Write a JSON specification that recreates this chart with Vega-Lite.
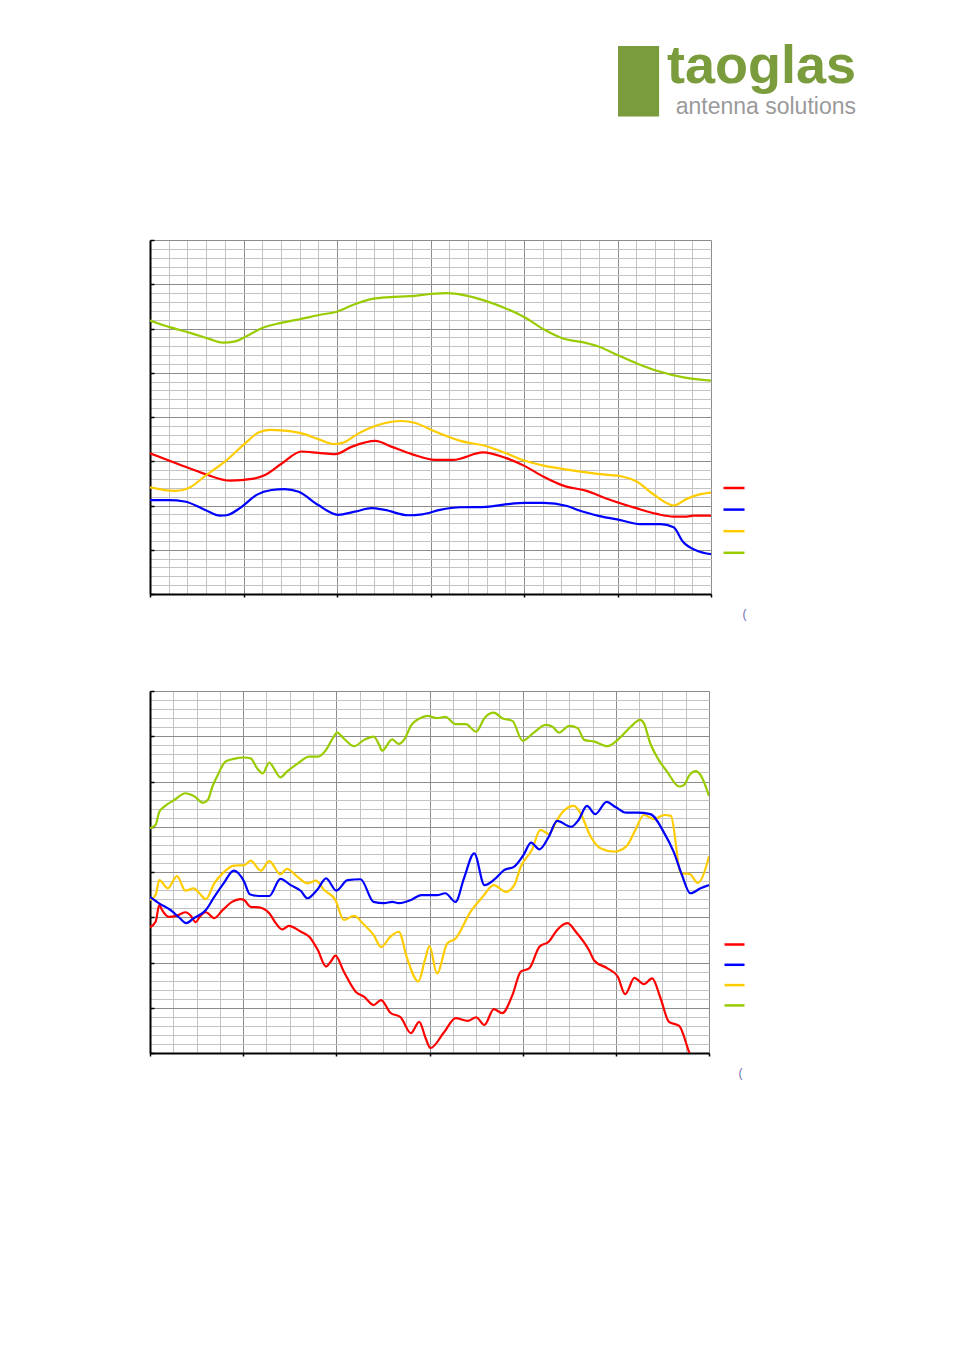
{
  "$schema": "https://vega.github.io/schema/vega-lite/v6.json",
  "background": "white",
  "padding": {"left": 149, "top": 40, "right": 5, "bottom": 5},
  "bounds": "flush",
  "spacing": 97,
  "title": {
    "text": "taoglas",
    "subtitle": "antenna solutions",
    "anchor": "end",
    "frame": "group",
    "font": "Liberation Sans",
    "fontSize": 54,
    "fontWeight": "bold",
    "color": "#7a9c3c",
    "subtitleFont": "Liberation Sans",
    "subtitleFontSize": 23,
    "subtitleColor": "#9a9a9a",
    "subtitlePadding": 2,
    "offset": -66.5,
    "dx": 706
  },
  "config": {
    "view": {"stroke": null},
    "font": "Liberation Sans",
    "axis": {
      "labels": false,
      "domainColor": "#000000",
      "domainWidth": 2,
      "gridWidth": 1,
      "tickWidth": 1.5
    }
  },
  "resolve": {"scale": {"color": "independent"}, "legend": {"color": "independent"}},
  "datasets": {
    "band1": [
      {"freq": 0, "value": 61.8, "series": "Trace 4"},
      {"freq": 21, "value": 60.3, "series": "Trace 4"},
      {"freq": 43, "value": 59.0, "series": "Trace 4"},
      {"freq": 64, "value": 57.6, "series": "Trace 4"},
      {"freq": 78, "value": 56.8, "series": "Trace 4"},
      {"freq": 91, "value": 57.1, "series": "Trace 4"},
      {"freq": 100, "value": 57.9, "series": "Trace 4"},
      {"freq": 120, "value": 60.1, "series": "Trace 4"},
      {"freq": 139, "value": 61.2, "series": "Trace 4"},
      {"freq": 160, "value": 62.1, "series": "Trace 4"},
      {"freq": 182, "value": 63.1, "series": "Trace 4"},
      {"freq": 200, "value": 63.8, "series": "Trace 4"},
      {"freq": 219, "value": 65.5, "series": "Trace 4"},
      {"freq": 238, "value": 66.7, "series": "Trace 4"},
      {"freq": 257, "value": 67.1, "series": "Trace 4"},
      {"freq": 278, "value": 67.3, "series": "Trace 4"},
      {"freq": 300, "value": 67.8, "series": "Trace 4"},
      {"freq": 318, "value": 68.0, "series": "Trace 4"},
      {"freq": 337, "value": 67.5, "series": "Trace 4"},
      {"freq": 358, "value": 66.3, "series": "Trace 4"},
      {"freq": 380, "value": 64.6, "series": "Trace 4"},
      {"freq": 401, "value": 62.5, "series": "Trace 4"},
      {"freq": 422, "value": 59.7, "series": "Trace 4"},
      {"freq": 441, "value": 57.8, "series": "Trace 4"},
      {"freq": 465, "value": 56.8, "series": "Trace 4"},
      {"freq": 479, "value": 56.0, "series": "Trace 4"},
      {"freq": 500, "value": 54.0, "series": "Trace 4"},
      {"freq": 522, "value": 52.0, "series": "Trace 4"},
      {"freq": 543, "value": 50.4, "series": "Trace 4"},
      {"freq": 572, "value": 48.9, "series": "Trace 4"},
      {"freq": 600, "value": 48.2, "series": "Trace 4"},

      {"freq": 0, "value": 31.8, "series": "Trace 1"},
      {"freq": 30, "value": 29.4, "series": "Trace 1"},
      {"freq": 59, "value": 27.1, "series": "Trace 1"},
      {"freq": 86, "value": 25.6, "series": "Trace 1"},
      {"freq": 109, "value": 26.0, "series": "Trace 1"},
      {"freq": 123, "value": 26.9, "series": "Trace 1"},
      {"freq": 141, "value": 29.5, "series": "Trace 1"},
      {"freq": 162, "value": 32.2, "series": "Trace 1"},
      {"freq": 180, "value": 31.9, "series": "Trace 1"},
      {"freq": 198, "value": 31.6, "series": "Trace 1"},
      {"freq": 216, "value": 33.3, "series": "Trace 1"},
      {"freq": 241, "value": 34.6, "series": "Trace 1"},
      {"freq": 258, "value": 33.3, "series": "Trace 1"},
      {"freq": 280, "value": 31.6, "series": "Trace 1"},
      {"freq": 305, "value": 30.3, "series": "Trace 1"},
      {"freq": 324, "value": 30.3, "series": "Trace 1"},
      {"freq": 356, "value": 32.0, "series": "Trace 1"},
      {"freq": 381, "value": 30.7, "series": "Trace 1"},
      {"freq": 401, "value": 28.9, "series": "Trace 1"},
      {"freq": 421, "value": 26.5, "series": "Trace 1"},
      {"freq": 442, "value": 24.5, "series": "Trace 1"},
      {"freq": 467, "value": 23.3, "series": "Trace 1"},
      {"freq": 488, "value": 21.6, "series": "Trace 1"},
      {"freq": 520, "value": 19.4, "series": "Trace 1"},
      {"freq": 542, "value": 18.1, "series": "Trace 1"},
      {"freq": 560, "value": 17.5, "series": "Trace 1"},
      {"freq": 574, "value": 17.5, "series": "Trace 1"},
      {"freq": 581, "value": 17.7, "series": "Trace 1"},
      {"freq": 600, "value": 17.7, "series": "Trace 1"},

      {"freq": 0, "value": 24.1, "series": "Trace 3"},
      {"freq": 27, "value": 23.3, "series": "Trace 3"},
      {"freq": 41, "value": 23.9, "series": "Trace 3"},
      {"freq": 59, "value": 26.7, "series": "Trace 3"},
      {"freq": 80, "value": 29.9, "series": "Trace 3"},
      {"freq": 102, "value": 34.1, "series": "Trace 3"},
      {"freq": 116, "value": 36.5, "series": "Trace 3"},
      {"freq": 128, "value": 37.1, "series": "Trace 3"},
      {"freq": 144, "value": 36.9, "series": "Trace 3"},
      {"freq": 162, "value": 36.3, "series": "Trace 3"},
      {"freq": 180, "value": 35.0, "series": "Trace 3"},
      {"freq": 196, "value": 33.9, "series": "Trace 3"},
      {"freq": 205, "value": 34.1, "series": "Trace 3"},
      {"freq": 223, "value": 36.3, "series": "Trace 3"},
      {"freq": 244, "value": 38.2, "series": "Trace 3"},
      {"freq": 269, "value": 39.1, "series": "Trace 3"},
      {"freq": 283, "value": 38.7, "series": "Trace 3"},
      {"freq": 305, "value": 36.7, "series": "Trace 3"},
      {"freq": 332, "value": 34.6, "series": "Trace 3"},
      {"freq": 360, "value": 33.4, "series": "Trace 3"},
      {"freq": 381, "value": 31.8, "series": "Trace 3"},
      {"freq": 401, "value": 30.1, "series": "Trace 3"},
      {"freq": 421, "value": 29.0, "series": "Trace 3"},
      {"freq": 453, "value": 27.9, "series": "Trace 3"},
      {"freq": 481, "value": 27.1, "series": "Trace 3"},
      {"freq": 506, "value": 26.5, "series": "Trace 3"},
      {"freq": 520, "value": 25.5, "series": "Trace 3"},
      {"freq": 538, "value": 22.6, "series": "Trace 3"},
      {"freq": 560, "value": 20.0, "series": "Trace 3"},
      {"freq": 574, "value": 21.5, "series": "Trace 3"},
      {"freq": 588, "value": 22.5, "series": "Trace 3"},
      {"freq": 600, "value": 22.9, "series": "Trace 3"},

      {"freq": 0, "value": 21.2, "series": "Trace 2"},
      {"freq": 20, "value": 21.2, "series": "Trace 2"},
      {"freq": 37, "value": 20.9, "series": "Trace 2"},
      {"freq": 59, "value": 19.0, "series": "Trace 2"},
      {"freq": 75, "value": 17.7, "series": "Trace 2"},
      {"freq": 82, "value": 17.8, "series": "Trace 2"},
      {"freq": 98, "value": 19.7, "series": "Trace 2"},
      {"freq": 114, "value": 22.4, "series": "Trace 2"},
      {"freq": 130, "value": 23.5, "series": "Trace 2"},
      {"freq": 144, "value": 23.7, "series": "Trace 2"},
      {"freq": 159, "value": 23.1, "series": "Trace 2"},
      {"freq": 180, "value": 20.1, "series": "Trace 2"},
      {"freq": 201, "value": 17.9, "series": "Trace 2"},
      {"freq": 219, "value": 18.6, "series": "Trace 2"},
      {"freq": 237, "value": 19.4, "series": "Trace 2"},
      {"freq": 251, "value": 19.0, "series": "Trace 2"},
      {"freq": 276, "value": 17.8, "series": "Trace 2"},
      {"freq": 291, "value": 18.0, "series": "Trace 2"},
      {"freq": 310, "value": 19.0, "series": "Trace 2"},
      {"freq": 332, "value": 19.6, "series": "Trace 2"},
      {"freq": 360, "value": 19.7, "series": "Trace 2"},
      {"freq": 382, "value": 20.3, "series": "Trace 2"},
      {"freq": 401, "value": 20.6, "series": "Trace 2"},
      {"freq": 421, "value": 20.6, "series": "Trace 2"},
      {"freq": 446, "value": 19.9, "series": "Trace 2"},
      {"freq": 460, "value": 18.8, "series": "Trace 2"},
      {"freq": 481, "value": 17.6, "series": "Trace 2"},
      {"freq": 503, "value": 16.7, "series": "Trace 2"},
      {"freq": 524, "value": 15.8, "series": "Trace 2"},
      {"freq": 546, "value": 15.8, "series": "Trace 2"},
      {"freq": 560, "value": 15.1, "series": "Trace 2"},
      {"freq": 570, "value": 11.8, "series": "Trace 2"},
      {"freq": 585, "value": 9.8, "series": "Trace 2"},
      {"freq": 600, "value": 9.0, "series": "Trace 2"}
    ],
    "band2": [
      {"freq": 0, "value": 49.7, "series": "Trace 4"},
      {"freq": 6, "value": 50.4, "series": "Trace 4"},
      {"freq": 10, "value": 53.3, "series": "Trace 4"},
      {"freq": 15, "value": 54.4, "series": "Trace 4"},
      {"freq": 26, "value": 55.9, "series": "Trace 4"},
      {"freq": 38, "value": 57.4, "series": "Trace 4"},
      {"freq": 47, "value": 56.8, "series": "Trace 4"},
      {"freq": 57, "value": 55.3, "series": "Trace 4"},
      {"freq": 62, "value": 55.9, "series": "Trace 4"},
      {"freq": 67, "value": 58.9, "series": "Trace 4"},
      {"freq": 72, "value": 61.1, "series": "Trace 4"},
      {"freq": 81, "value": 64.4, "series": "Trace 4"},
      {"freq": 90, "value": 65.0, "series": "Trace 4"},
      {"freq": 101, "value": 65.3, "series": "Trace 4"},
      {"freq": 108, "value": 65.1, "series": "Trace 4"},
      {"freq": 115, "value": 62.9, "series": "Trace 4"},
      {"freq": 121, "value": 61.8, "series": "Trace 4"},
      {"freq": 128, "value": 64.2, "series": "Trace 4"},
      {"freq": 133, "value": 62.9, "series": "Trace 4"},
      {"freq": 140, "value": 60.9, "series": "Trace 4"},
      {"freq": 147, "value": 62.2, "series": "Trace 4"},
      {"freq": 158, "value": 63.9, "series": "Trace 4"},
      {"freq": 171, "value": 65.5, "series": "Trace 4"},
      {"freq": 180, "value": 65.5, "series": "Trace 4"},
      {"freq": 189, "value": 67.0, "series": "Trace 4"},
      {"freq": 196, "value": 69.5, "series": "Trace 4"},
      {"freq": 201, "value": 70.8, "series": "Trace 4"},
      {"freq": 208, "value": 69.5, "series": "Trace 4"},
      {"freq": 219, "value": 67.8, "series": "Trace 4"},
      {"freq": 230, "value": 69.2, "series": "Trace 4"},
      {"freq": 240, "value": 69.9, "series": "Trace 4"},
      {"freq": 246, "value": 68.1, "series": "Trace 4"},
      {"freq": 249, "value": 66.8, "series": "Trace 4"},
      {"freq": 260, "value": 69.3, "series": "Trace 4"},
      {"freq": 267, "value": 68.3, "series": "Trace 4"},
      {"freq": 273, "value": 69.3, "series": "Trace 4"},
      {"freq": 280, "value": 72.3, "series": "Trace 4"},
      {"freq": 291, "value": 74.1, "series": "Trace 4"},
      {"freq": 298, "value": 74.5, "series": "Trace 4"},
      {"freq": 308, "value": 74.0, "series": "Trace 4"},
      {"freq": 317, "value": 74.3, "series": "Trace 4"},
      {"freq": 328, "value": 72.7, "series": "Trace 4"},
      {"freq": 339, "value": 72.7, "series": "Trace 4"},
      {"freq": 350, "value": 71.0, "series": "Trace 4"},
      {"freq": 359, "value": 74.0, "series": "Trace 4"},
      {"freq": 369, "value": 75.2, "series": "Trace 4"},
      {"freq": 378, "value": 74.0, "series": "Trace 4"},
      {"freq": 389, "value": 73.4, "series": "Trace 4"},
      {"freq": 400, "value": 69.0, "series": "Trace 4"},
      {"freq": 412, "value": 70.8, "series": "Trace 4"},
      {"freq": 425, "value": 72.5, "series": "Trace 4"},
      {"freq": 432, "value": 72.1, "series": "Trace 4"},
      {"freq": 439, "value": 70.8, "series": "Trace 4"},
      {"freq": 450, "value": 72.3, "series": "Trace 4"},
      {"freq": 459, "value": 71.8, "series": "Trace 4"},
      {"freq": 466, "value": 69.2, "series": "Trace 4"},
      {"freq": 477, "value": 68.8, "series": "Trace 4"},
      {"freq": 491, "value": 67.8, "series": "Trace 4"},
      {"freq": 502, "value": 69.2, "series": "Trace 4"},
      {"freq": 516, "value": 72.1, "series": "Trace 4"},
      {"freq": 526, "value": 73.6, "series": "Trace 4"},
      {"freq": 530, "value": 72.9, "series": "Trace 4"},
      {"freq": 537, "value": 68.4, "series": "Trace 4"},
      {"freq": 545, "value": 65.1, "series": "Trace 4"},
      {"freq": 555, "value": 62.2, "series": "Trace 4"},
      {"freq": 568, "value": 58.9, "series": "Trace 4"},
      {"freq": 573, "value": 59.2, "series": "Trace 4"},
      {"freq": 579, "value": 61.4, "series": "Trace 4"},
      {"freq": 586, "value": 62.3, "series": "Trace 4"},
      {"freq": 591, "value": 61.4, "series": "Trace 4"},
      {"freq": 600, "value": 56.8, "series": "Trace 4"},

      {"freq": 0, "value": 27.8, "series": "Trace 1"},
      {"freq": 6, "value": 29.0, "series": "Trace 1"},
      {"freq": 10, "value": 32.7, "series": "Trace 1"},
      {"freq": 13, "value": 31.6, "series": "Trace 1"},
      {"freq": 20, "value": 30.1, "series": "Trace 1"},
      {"freq": 28, "value": 30.3, "series": "Trace 1"},
      {"freq": 38, "value": 31.1, "series": "Trace 1"},
      {"freq": 44, "value": 30.3, "series": "Trace 1"},
      {"freq": 49, "value": 28.9, "series": "Trace 1"},
      {"freq": 53, "value": 30.0, "series": "Trace 1"},
      {"freq": 60, "value": 31.1, "series": "Trace 1"},
      {"freq": 69, "value": 29.8, "series": "Trace 1"},
      {"freq": 78, "value": 31.6, "series": "Trace 1"},
      {"freq": 88, "value": 33.4, "series": "Trace 1"},
      {"freq": 97, "value": 34.0, "series": "Trace 1"},
      {"freq": 101, "value": 33.8, "series": "Trace 1"},
      {"freq": 108, "value": 32.3, "series": "Trace 1"},
      {"freq": 117, "value": 32.2, "series": "Trace 1"},
      {"freq": 128, "value": 30.9, "series": "Trace 1"},
      {"freq": 135, "value": 28.7, "series": "Trace 1"},
      {"freq": 142, "value": 27.3, "series": "Trace 1"},
      {"freq": 149, "value": 28.1, "series": "Trace 1"},
      {"freq": 162, "value": 26.8, "series": "Trace 1"},
      {"freq": 171, "value": 25.7, "series": "Trace 1"},
      {"freq": 180, "value": 22.8, "series": "Trace 1"},
      {"freq": 189, "value": 19.1, "series": "Trace 1"},
      {"freq": 194, "value": 20.2, "series": "Trace 1"},
      {"freq": 199, "value": 21.5, "series": "Trace 1"},
      {"freq": 208, "value": 18.0, "series": "Trace 1"},
      {"freq": 221, "value": 13.5, "series": "Trace 1"},
      {"freq": 230, "value": 12.4, "series": "Trace 1"},
      {"freq": 240, "value": 10.6, "series": "Trace 1"},
      {"freq": 248, "value": 11.7, "series": "Trace 1"},
      {"freq": 258, "value": 8.9, "series": "Trace 1"},
      {"freq": 269, "value": 7.9, "series": "Trace 1"},
      {"freq": 280, "value": 4.4, "series": "Trace 1"},
      {"freq": 289, "value": 6.9, "series": "Trace 1"},
      {"freq": 296, "value": 3.2, "series": "Trace 1"},
      {"freq": 301, "value": 1.1, "series": "Trace 1"},
      {"freq": 316, "value": 4.7, "series": "Trace 1"},
      {"freq": 328, "value": 7.7, "series": "Trace 1"},
      {"freq": 341, "value": 7.1, "series": "Trace 1"},
      {"freq": 350, "value": 7.9, "series": "Trace 1"},
      {"freq": 359, "value": 6.2, "series": "Trace 1"},
      {"freq": 369, "value": 9.7, "series": "Trace 1"},
      {"freq": 378, "value": 8.8, "series": "Trace 1"},
      {"freq": 389, "value": 12.8, "series": "Trace 1"},
      {"freq": 398, "value": 18.0, "series": "Trace 1"},
      {"freq": 407, "value": 18.7, "series": "Trace 1"},
      {"freq": 418, "value": 23.5, "series": "Trace 1"},
      {"freq": 428, "value": 24.6, "series": "Trace 1"},
      {"freq": 437, "value": 27.2, "series": "Trace 1"},
      {"freq": 448, "value": 28.7, "series": "Trace 1"},
      {"freq": 457, "value": 26.8, "series": "Trace 1"},
      {"freq": 471, "value": 22.8, "series": "Trace 1"},
      {"freq": 477, "value": 20.4, "series": "Trace 1"},
      {"freq": 491, "value": 18.7, "series": "Trace 1"},
      {"freq": 502, "value": 16.9, "series": "Trace 1"},
      {"freq": 510, "value": 13.0, "series": "Trace 1"},
      {"freq": 520, "value": 16.6, "series": "Trace 1"},
      {"freq": 530, "value": 15.2, "series": "Trace 1"},
      {"freq": 539, "value": 16.5, "series": "Trace 1"},
      {"freq": 548, "value": 12.1, "series": "Trace 1"},
      {"freq": 557, "value": 6.9, "series": "Trace 1"},
      {"freq": 568, "value": 6.0, "series": "Trace 1"},
      {"freq": 579, "value": 0.0, "series": "Trace 1"},
      {"freq": 585, "value": -3.0, "series": "Trace 1"},

      {"freq": 0, "value": 33.8, "series": "Trace 3"},
      {"freq": 6, "value": 34.9, "series": "Trace 3"},
      {"freq": 10, "value": 38.2, "series": "Trace 3"},
      {"freq": 19, "value": 36.4, "series": "Trace 3"},
      {"freq": 29, "value": 39.1, "series": "Trace 3"},
      {"freq": 38, "value": 35.9, "series": "Trace 3"},
      {"freq": 47, "value": 36.4, "series": "Trace 3"},
      {"freq": 53, "value": 35.3, "series": "Trace 3"},
      {"freq": 60, "value": 34.0, "series": "Trace 3"},
      {"freq": 69, "value": 37.5, "series": "Trace 3"},
      {"freq": 78, "value": 39.7, "series": "Trace 3"},
      {"freq": 90, "value": 41.4, "series": "Trace 3"},
      {"freq": 101, "value": 41.5, "series": "Trace 3"},
      {"freq": 108, "value": 42.5, "series": "Trace 3"},
      {"freq": 119, "value": 40.3, "series": "Trace 3"},
      {"freq": 128, "value": 42.4, "series": "Trace 3"},
      {"freq": 140, "value": 39.5, "series": "Trace 3"},
      {"freq": 147, "value": 40.7, "series": "Trace 3"},
      {"freq": 158, "value": 39.0, "series": "Trace 3"},
      {"freq": 169, "value": 37.5, "series": "Trace 3"},
      {"freq": 178, "value": 38.1, "series": "Trace 3"},
      {"freq": 187, "value": 36.0, "series": "Trace 3"},
      {"freq": 199, "value": 33.8, "series": "Trace 3"},
      {"freq": 208, "value": 29.4, "series": "Trace 3"},
      {"freq": 219, "value": 30.3, "series": "Trace 3"},
      {"freq": 230, "value": 28.3, "series": "Trace 3"},
      {"freq": 240, "value": 26.1, "series": "Trace 3"},
      {"freq": 248, "value": 23.4, "series": "Trace 3"},
      {"freq": 258, "value": 25.7, "series": "Trace 3"},
      {"freq": 267, "value": 26.8, "series": "Trace 3"},
      {"freq": 276, "value": 20.9, "series": "Trace 3"},
      {"freq": 288, "value": 15.8, "series": "Trace 3"},
      {"freq": 295, "value": 20.5, "series": "Trace 3"},
      {"freq": 300, "value": 23.6, "series": "Trace 3"},
      {"freq": 308, "value": 17.6, "series": "Trace 3"},
      {"freq": 319, "value": 24.2, "series": "Trace 3"},
      {"freq": 328, "value": 25.3, "series": "Trace 3"},
      {"freq": 344, "value": 31.2, "series": "Trace 3"},
      {"freq": 357, "value": 34.5, "series": "Trace 3"},
      {"freq": 369, "value": 37.1, "series": "Trace 3"},
      {"freq": 382, "value": 35.6, "series": "Trace 3"},
      {"freq": 391, "value": 37.1, "series": "Trace 3"},
      {"freq": 398, "value": 41.2, "series": "Trace 3"},
      {"freq": 410, "value": 44.9, "series": "Trace 3"},
      {"freq": 419, "value": 49.3, "series": "Trace 3"},
      {"freq": 428, "value": 48.4, "series": "Trace 3"},
      {"freq": 437, "value": 51.5, "series": "Trace 3"},
      {"freq": 444, "value": 53.5, "series": "Trace 3"},
      {"freq": 455, "value": 54.6, "series": "Trace 3"},
      {"freq": 462, "value": 53.0, "series": "Trace 3"},
      {"freq": 473, "value": 47.8, "series": "Trace 3"},
      {"freq": 484, "value": 45.2, "series": "Trace 3"},
      {"freq": 498, "value": 44.5, "series": "Trace 3"},
      {"freq": 511, "value": 45.6, "series": "Trace 3"},
      {"freq": 521, "value": 49.3, "series": "Trace 3"},
      {"freq": 530, "value": 52.6, "series": "Trace 3"},
      {"freq": 541, "value": 51.7, "series": "Trace 3"},
      {"freq": 552, "value": 52.6, "series": "Trace 3"},
      {"freq": 559, "value": 52.4, "series": "Trace 3"},
      {"freq": 570, "value": 39.7, "series": "Trace 3"},
      {"freq": 579, "value": 39.6, "series": "Trace 3"},
      {"freq": 588, "value": 37.6, "series": "Trace 3"},
      {"freq": 599, "value": 42.7, "series": "Trace 3"},
      {"freq": 600, "value": 43.5, "series": "Trace 3"},

      {"freq": 0, "value": 34.5, "series": "Trace 2"},
      {"freq": 11, "value": 32.9, "series": "Trace 2"},
      {"freq": 22, "value": 31.6, "series": "Trace 2"},
      {"freq": 31, "value": 30.0, "series": "Trace 2"},
      {"freq": 39, "value": 28.7, "series": "Trace 2"},
      {"freq": 47, "value": 29.8, "series": "Trace 2"},
      {"freq": 60, "value": 31.6, "series": "Trace 2"},
      {"freq": 69, "value": 34.5, "series": "Trace 2"},
      {"freq": 79, "value": 37.5, "series": "Trace 2"},
      {"freq": 90, "value": 40.3, "series": "Trace 2"},
      {"freq": 101, "value": 37.9, "series": "Trace 2"},
      {"freq": 107, "value": 35.1, "series": "Trace 2"},
      {"freq": 117, "value": 34.7, "series": "Trace 2"},
      {"freq": 128, "value": 34.7, "series": "Trace 2"},
      {"freq": 140, "value": 38.5, "series": "Trace 2"},
      {"freq": 151, "value": 37.1, "series": "Trace 2"},
      {"freq": 162, "value": 35.8, "series": "Trace 2"},
      {"freq": 169, "value": 34.2, "series": "Trace 2"},
      {"freq": 180, "value": 36.2, "series": "Trace 2"},
      {"freq": 189, "value": 38.6, "series": "Trace 2"},
      {"freq": 200, "value": 35.9, "series": "Trace 2"},
      {"freq": 212, "value": 38.2, "series": "Trace 2"},
      {"freq": 226, "value": 38.4, "series": "Trace 2"},
      {"freq": 240, "value": 33.4, "series": "Trace 2"},
      {"freq": 251, "value": 33.1, "series": "Trace 2"},
      {"freq": 260, "value": 33.4, "series": "Trace 2"},
      {"freq": 267, "value": 33.1, "series": "Trace 2"},
      {"freq": 280, "value": 33.8, "series": "Trace 2"},
      {"freq": 291, "value": 34.9, "series": "Trace 2"},
      {"freq": 308, "value": 34.9, "series": "Trace 2"},
      {"freq": 317, "value": 35.3, "series": "Trace 2"},
      {"freq": 328, "value": 33.4, "series": "Trace 2"},
      {"freq": 337, "value": 38.6, "series": "Trace 2"},
      {"freq": 348, "value": 44.1, "series": "Trace 2"},
      {"freq": 359, "value": 37.1, "series": "Trace 2"},
      {"freq": 371, "value": 38.6, "series": "Trace 2"},
      {"freq": 380, "value": 40.4, "series": "Trace 2"},
      {"freq": 391, "value": 41.2, "series": "Trace 2"},
      {"freq": 401, "value": 43.8, "series": "Trace 2"},
      {"freq": 409, "value": 46.5, "series": "Trace 2"},
      {"freq": 418, "value": 45.0, "series": "Trace 2"},
      {"freq": 428, "value": 47.8, "series": "Trace 2"},
      {"freq": 437, "value": 51.3, "series": "Trace 2"},
      {"freq": 452, "value": 50.0, "series": "Trace 2"},
      {"freq": 460, "value": 51.5, "series": "Trace 2"},
      {"freq": 469, "value": 54.6, "series": "Trace 2"},
      {"freq": 478, "value": 52.8, "series": "Trace 2"},
      {"freq": 490, "value": 55.5, "series": "Trace 2"},
      {"freq": 500, "value": 54.3, "series": "Trace 2"},
      {"freq": 511, "value": 53.1, "series": "Trace 2"},
      {"freq": 523, "value": 53.1, "series": "Trace 2"},
      {"freq": 537, "value": 52.8, "series": "Trace 2"},
      {"freq": 552, "value": 48.6, "series": "Trace 2"},
      {"freq": 562, "value": 44.5, "series": "Trace 2"},
      {"freq": 571, "value": 39.3, "series": "Trace 2"},
      {"freq": 580, "value": 35.3, "series": "Trace 2"},
      {"freq": 591, "value": 36.4, "series": "Trace 2"},
      {"freq": 600, "value": 37.1, "series": "Trace 2"}
    ]
  },
  "vconcat": [
    {
      "width": 561,
      "height": 354,
      "title": {
        "text": "█",
        "anchor": "start",
        "frame": "group",
        "font": "Liberation Sans",
        "fontSize": 58,
        "fontWeight": "normal",
        "color": "#7a9c3c",
        "offset": 128.5,
        "dx": 468
      },
      "data": {"name": "band1"},
      "mark": {"type": "line", "interpolate": "monotone", "strokeWidth": 2.2, "clip": true},
      "encoding": {
        "x": {
          "field": "freq", "type": "quantitative",
          "scale": {"domain": [0, 600], "nice": false, "zero": false},
          "axis": {
            "values": [0, 20, 40, 60, 80, 100, 120, 140, 160, 180, 200, 220, 240, 260, 280, 300, 320, 340, 360, 380, 400, 420, 440, 460, 480, 500, 520, 540, 560, 580, 600],
            "gridColor": {"condition": {"test": "datum.value % 100 === 0", "value": "#8c8c8c"}, "value": "#c3c3c3"},
            "tickColor": {"condition": {"test": "datum.value % 100 === 0", "value": "#000000"}, "value": "transparent"},
            "tickSize": 3,
            "title": "(",
            "titleX": 592,
            "titleY": 19,
            "titleAlign": "left",
            "titleBaseline": "middle",
            "titleFontSize": 12,
            "titleFontWeight": "normal",
            "titleColor": "#6b6bb0"
          }
        },
        "y": {
          "field": "value", "type": "quantitative",
          "scale": {"domain": [0, 80], "nice": false, "zero": false},
          "axis": {
            "values": [0, 2, 4, 6, 8, 10, 12, 14, 16, 18, 20, 22, 24, 26, 28, 30, 32, 34, 36, 38, 40, 42, 44, 46, 48, 50, 52, 54, 56, 58, 60, 62, 64, 66, 68, 70, 72, 74, 76, 78, 80],
            "gridColor": {"condition": {"test": "datum.value % 10 === 0", "value": "#8c8c8c"}, "value": "#c3c3c3"},
            "tickColor": {"condition": {"test": "datum.value % 10 === 0", "value": "#000000"}, "value": "transparent"},
            "tickSize": -4,
            "title": null
          }
        },
        "color": {
          "field": "series", "type": "nominal",
          "scale": {"domain": ["Trace 1", "Trace 2", "Trace 3", "Trace 4"], "range": ["#ff0000", "#0000ff", "#ffcc00", "#99cc00"]},
          "legend": {
            "orient": "none", "legendX": 572, "legendY": 236,
            "title": null, "padding": 0,
            "symbolType": "stroke", "symbolSize": 441, "symbolStrokeWidth": 2.5,
            "rowPadding": 4.6, "labelExpr": "''", "labelFontSize": 10
          }
        }
      }
    },
    {
      "width": 559,
      "height": 362,
      "data": {"name": "band2"},
      "mark": {"type": "line", "interpolate": "monotone", "strokeWidth": 2.2, "clip": true},
      "encoding": {
        "x": {
          "field": "freq", "type": "quantitative",
          "scale": {"domain": [0, 600], "nice": false, "zero": false},
          "axis": {
            "values": [0, 25, 50, 75, 100, 125, 150, 175, 200, 225, 250, 275, 300, 325, 350, 375, 400, 425, 450, 475, 500, 525, 550, 575, 600],
            "gridColor": {"condition": {"test": "datum.value % 100 === 0", "value": "#8c8c8c"}, "value": "#c3c3c3"},
            "tickColor": {"condition": {"test": "datum.value % 100 === 0", "value": "#000000"}, "value": "transparent"},
            "tickSize": 3,
            "title": "(",
            "titleX": 588,
            "titleY": 19,
            "titleAlign": "left",
            "titleBaseline": "middle",
            "titleFontSize": 12,
            "titleFontWeight": "normal",
            "titleColor": "#6b6bb0"
          }
        },
        "y": {
          "field": "value", "type": "quantitative",
          "scale": {"domain": [0, 80], "nice": false, "zero": false},
          "axis": {
            "values": [0, 2, 4, 6, 8, 10, 12, 14, 16, 18, 20, 22, 24, 26, 28, 30, 32, 34, 36, 38, 40, 42, 44, 46, 48, 50, 52, 54, 56, 58, 60, 62, 64, 66, 68, 70, 72, 74, 76, 78, 80],
            "gridColor": {"condition": {"test": "datum.value % 10 === 0", "value": "#8c8c8c"}, "value": "#c3c3c3"},
            "tickColor": {"condition": {"test": "datum.value % 10 === 0", "value": "#000000"}, "value": "transparent"},
            "tickSize": -4,
            "title": null
          }
        },
        "color": {
          "field": "series", "type": "nominal",
          "scale": {"domain": ["Trace 1", "Trace 2", "Trace 3", "Trace 4"], "range": ["#ff0000", "#0000ff", "#ffcc00", "#99cc00"]},
          "legend": {
            "orient": "none", "legendX": 573, "legendY": 242,
            "title": null, "padding": 0,
            "symbolType": "stroke", "symbolSize": 400, "symbolStrokeWidth": 2.5,
            "rowPadding": 3.3, "labelExpr": "''", "labelFontSize": 10
          }
        }
      }
    }
  ]
}
